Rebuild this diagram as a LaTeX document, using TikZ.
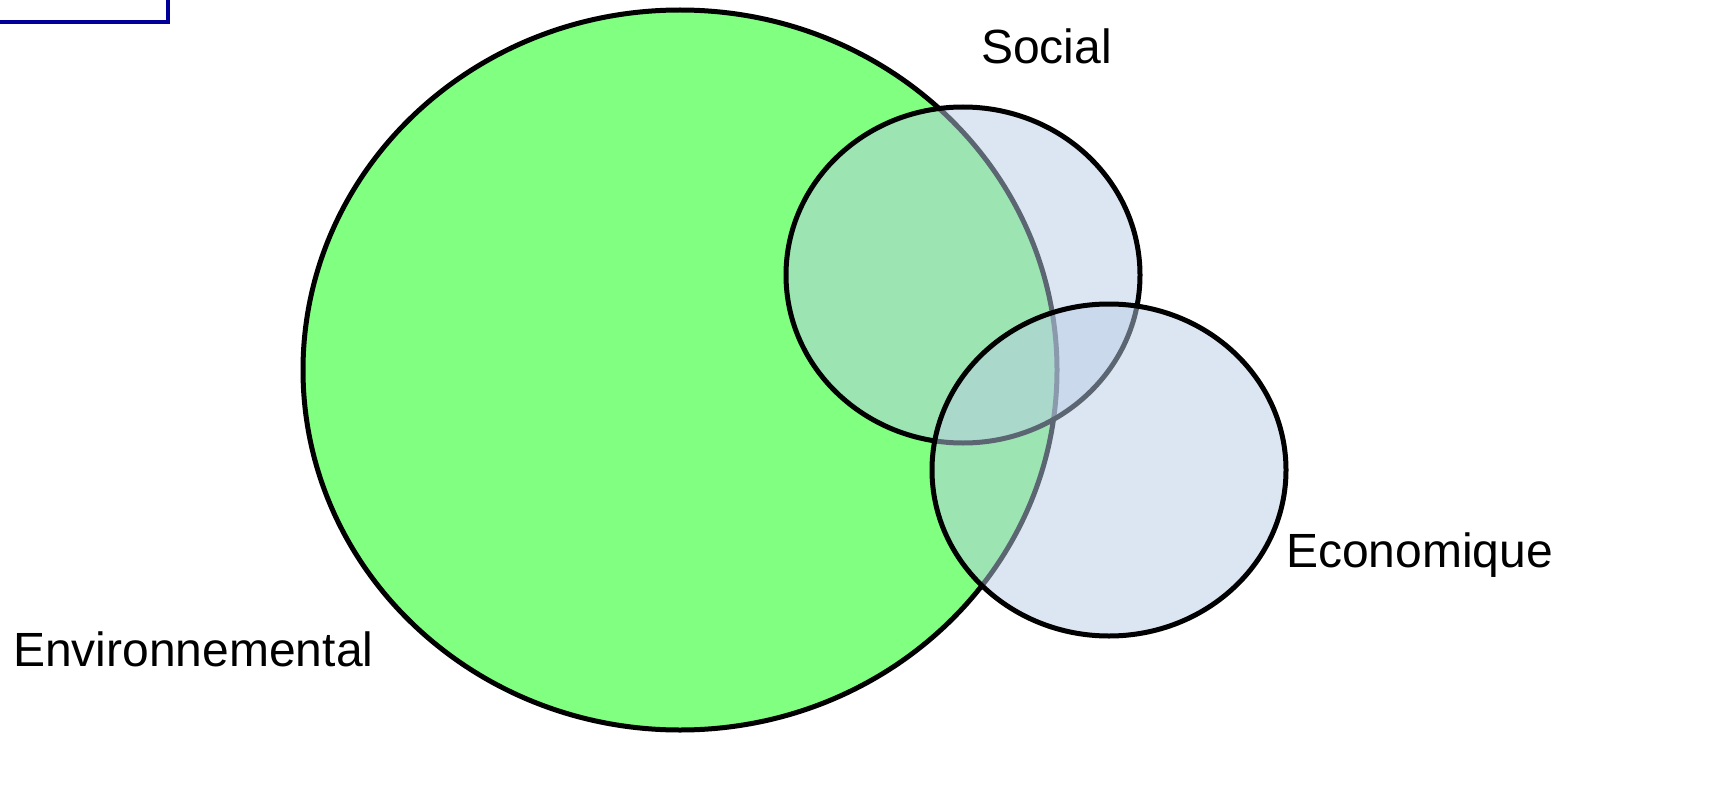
\documentclass[tikz,border=0pt]{standalone}
\usepackage{fontspec}
\setmainfont{Liberation Sans}
\definecolor{envgreen}{RGB}{128,255,128}
\definecolor{bluefill}{RGB}{185,205,229}
\definecolor{boxblue}{RGB}{0,0,153}
\begin{document}
\begin{tikzpicture}[x=1pt,y=-1pt,
  venn/.style={draw=black,line width=5pt},
  bluevenn/.style={venn,fill=bluefill,fill opacity=0.5},
  lbl/.style={inner sep=0pt,anchor=base west,font=\fontsize{48}{58}\selectfont}]
\useasboundingbox (0,0) rectangle (1710,797);
\draw[boxblue,line width=4.5pt] (-20,-20) rectangle (168,22);
\draw[venn,fill=envgreen] (680,370) ellipse [x radius=377,y radius=360];
\draw[bluevenn] (963,275) ellipse [x radius=177,y radius=168];
\draw[bluevenn] (1109,470) ellipse [x radius=177,y radius=166];
\node[lbl] (social) at (981,64) {Social};
\node[lbl] (eco) at (1286,567) {Economique};
\node[lbl] (env) at (13,666) {Environnemental};
\end{tikzpicture}
\end{document}
